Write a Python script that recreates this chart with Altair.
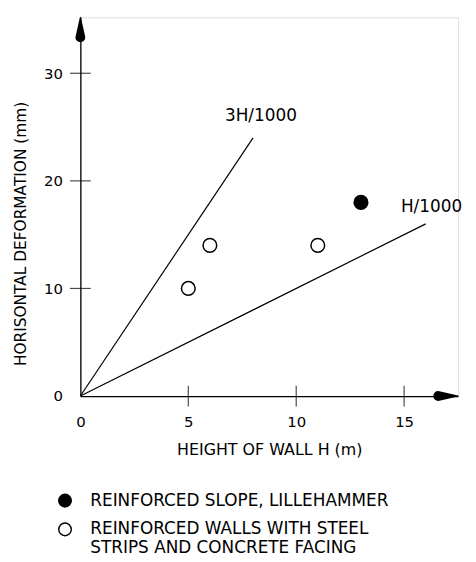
import altair as alt
import pandas as pd

# ---- data ----
x_tick_values = [0, 5, 10, 15]
y_tick_values = [0, 10, 20, 30]
x_cross_ticks = [5, 10, 15]
y_cross_ticks = [10, 20, 30]
x_end = 17.5          # arrow tip of the H axis
y_end = 35.2          # arrow tip of the deformation axis
x_head = 0.92         # arrowhead length along H (m)
y_head = 1.85         # arrowhead length along deformation (mm)
head_width = 10       # arrowhead base width (px)

slope_label = "REINFORCED SLOPE, LILLEHAMMER"
walls_label = "REINFORCED WALLS WITH STEEL|STRIPS AND CONCRETE FACING"

pt_height = [5, 6, 11, 13]
pt_deform = [10, 14, 14, 18]
pt_group = [walls_label, walls_label, walls_label, slope_label]

line_name = ["3H/1000", "3H/1000", "H/1000", "H/1000"]
line_height = [0, 8, 0, 16]
line_deform = [0, 24, 0, 16]

lbl_text = ["3H/1000", "H/1000"]
lbl_height = [6.7, 14.85]
lbl_deform = [26.0, 17.6]

FONT = "DejaVu Sans"

pts = pd.DataFrame({"h": pt_height, "d": pt_deform, "group": pt_group})
lines = pd.DataFrame({"name": line_name, "h": line_height, "d": line_deform})
lbls = pd.DataFrame({"text": lbl_text, "h": lbl_height, "d": lbl_deform})
xt = pd.DataFrame({"h": x_cross_ticks, "d": [0] * len(x_cross_ticks)})
yt = pd.DataFrame({"h": [0] * len(y_cross_ticks), "d": y_cross_ticks})
arrows = pd.DataFrame({
    "axis": ["x", "x", "y", "y"],
    "h": [x_end - x_head, x_end, 0, 0],
    "d": [0, 0, y_end - y_head, y_end],
    "w": [head_width, 0, head_width, 0],
    "o": [0, 1, 0, 1],
})

xscale = alt.Scale(domain=[0, x_end], nice=False, zero=True)
yscale = alt.Scale(domain=[0, y_end], nice=False, zero=True)

X = alt.X("h:Q", scale=xscale, axis=alt.Axis(
    values=x_tick_values, ticks=False, grid=False, domainColor="black",
    domainWidth=1.3, labelPadding=19, labelFontSize=15, labelColor="black",
    labelFont=FONT, labelFlush=False, title="HEIGHT OF WALL H (m)",
    titleFont=FONT, titleFontSize=16, titleFontWeight="normal",
    titleColor="black", titleY=54, titleBaseline="middle"))
Y = alt.Y("d:Q", scale=yscale, axis=alt.Axis(
    values=y_tick_values, ticks=False, grid=False, domainColor="black",
    domainWidth=1.3, labelPadding=18, labelFontSize=15, labelColor="black",
    labelFont=FONT, labelFlush=False, title="HORISONTAL DEFORMATION (mm)",
    titleFont=FONT, titleFontSize=15.5, titleFontWeight="normal",
    titleColor="black", titleX=-60.5, titleY=218, titleAngle=270,
    titleAlign="center", titleBaseline="middle"))

line_layer = alt.Chart(lines).mark_line(color="black", strokeWidth=1.2).encode(
    x=X, y=Y, detail="name:N")

xtick_layer = alt.Chart(xt).mark_tick(orient="vertical", size=21, thickness=1.2,
                                      color="black").encode(x="h:Q", y="d:Q")
ytick_layer = alt.Chart(yt).mark_tick(orient="horizontal", size=21, thickness=1.2,
                                      color="black").encode(x="h:Q", y="d:Q")

arrow_layer = alt.Chart(arrows).mark_trail(color="black", opacity=1).encode(
    x="h:Q", y="d:Q", detail="axis:N", order="o:Q",
    size=alt.Size("w:Q", scale=None, legend=None))

text_layer = alt.Chart(lbls).mark_text(
    align="left", baseline="middle", font=FONT, fontSize=17, color="black"
).encode(x="h:Q", y="d:Q", text="text:N")

pt_layer = alt.Chart(pts).mark_point(
    shape="circle", filled=True, size=190, stroke="black", strokeWidth=1.5,
    opacity=1).encode(
    x="h:Q", y="d:Q",
    fill=alt.Fill("group:N",
                  scale=alt.Scale(domain=[slope_label, walls_label],
                                  range=["black", "white"]),
                  legend=alt.Legend(
                      title=None, orient="none", legendX=-24, legendY=479,
                      labelExpr="split(datum.label, '|')",
                      labelFont=FONT, labelFontSize=17, labelColor="black",
                      labelLimit=500, labelOffset=17, symbolType="circle",
                      symbolSize=160, symbolStrokeColor="black",
                      symbolStrokeWidth=1.5, rowPadding=10, padding=0)))

chart = alt.layer(line_layer, xtick_layer, ytick_layer, arrow_layer,
                  text_layer, pt_layer).properties(
    width=381, height=382,
    autosize=alt.AutoSizeParams(type="none"),
    padding={"left": 73, "top": 7, "right": 10, "bottom": 165},
).configure_view(stroke=None).configure(font=FONT, background="white")

chart.save("out.html", embed_options={"renderer": "svg", "actions": False})
